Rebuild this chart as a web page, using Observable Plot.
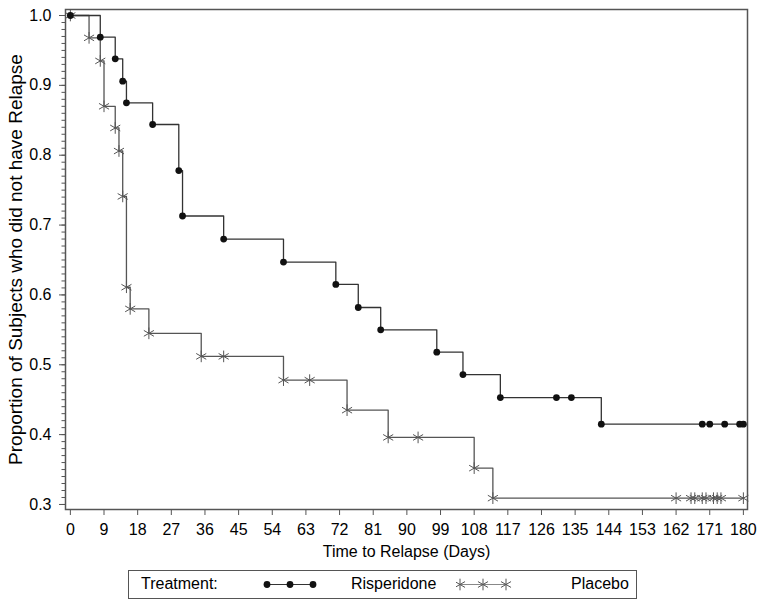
<!DOCTYPE html>
<html><head><meta charset="utf-8">
<script src="https://cdn.jsdelivr.net/npm/d3@7"></script>
<script src="https://cdn.jsdelivr.net/npm/@observablehq/plot@0.6"></script>
<style>
body{margin:0;background:#fff;font-family:"Liberation Sans",Arial,sans-serif;}
#wrap{position:relative;width:758px;height:604px;}
#legend{position:absolute;left:128px;top:570px;width:507px;height:27px;border:1.5px solid #555;box-sizing:content-box;font-size:16px;color:#000;}
#legend span{position:absolute;top:4px;white-space:nowrap;}
#legend svg{position:absolute;top:0;}
</style></head><body>
<div id="wrap"><div id="chart"></div><div id="legend"></div></div>
<script>
// Risperidone (filled dots)
const rispDays = [0, 8, 12, 14, 15, 22, 29, 30, 41, 57, 71, 77, 83, 98, 105, 115, 130, 134, 142, 169, 171, 175, 179, 180];
const rispSurv = [1.0, 0.969, 0.938, 0.906, 0.875, 0.844, 0.778, 0.713, 0.680, 0.647, 0.615, 0.582, 0.550, 0.518, 0.486, 0.453, 0.453, 0.453, 0.415, 0.415, 0.415, 0.415, 0.415, 0.415];
// Placebo (asterisks)
const placDays = [0, 5, 8, 9, 12, 13, 14, 15, 16, 21, 35, 41, 57, 64, 74, 85, 93, 108, 113, 162, 166, 167, 169, 170, 172, 173, 174, 180];
const placSurv = [1.0, 0.968, 0.935, 0.870, 0.839, 0.806, 0.741, 0.611, 0.580, 0.545, 0.512, 0.512, 0.478, 0.478, 0.435, 0.396, 0.396, 0.352, 0.309, 0.309, 0.309, 0.309, 0.309, 0.309, 0.309, 0.309, 0.309, 0.309];
const xTicks = [0, 9, 18, 27, 36, 45, 54, 63, 72, 81, 90, 99, 108, 117, 126, 135, 144, 153, 162, 171, 180];
const yTicks = [0.3, 0.4, 0.5, 0.6, 0.7, 0.8, 0.9, 1.0];
const yMinor = d3.range(30, 101).map(v => v / 100);
const seriesNames = ["Risperidone", "Placebo"];
const legendTitle = "Treatment:";
const xLabel = "Time to Relapse (Days)";
const yLabel = "Proportion of Subjects who did not have Relapse";

const risp = rispDays.map((d, i) => ({day: d, surv: rispSurv[i], trt: seriesNames[0]}));
const plac = placDays.map((d, i) => ({day: d, surv: placSurv[i], trt: seriesNames[1]}));

const chart = Plot.plot({
  width: 758, height: 566,
  marginLeft: 65, marginRight: 11, marginTop: 9, marginBottom: 57,
  style: {fontFamily: "'Liberation Sans', Arial, sans-serif", fontSize: "16px", color: "#000", background: "#fff", overflow: "visible"},
  x: {domain: [-1.3, 181.1]},
  y: {domain: [0.2928, 1.0086]},
  marks: [
    Plot.axisY(yMinor, {tickSize: 3.5, text: null, stroke: "#555", label: null}),
    Plot.axisY(yTicks, {tickSize: 6, tickPadding: 8, tickFormat: d3.format(".1f"), stroke: "#555", fill: "#000", label: null, fontSize: 16}),
    Plot.axisX(xTicks, {tickSize: 6, tickPadding: 8, stroke: "#555", fill: "#000", label: null, fontSize: 16}),
    Plot.text([yLabel], {frameAnchor: "left", rotate: -90, dx: -50, fontSize: 19, fill: "#000", textAnchor: "middle", lineAnchor: "middle"}),
    Plot.text([xLabel], {frameAnchor: "bottom", dy: 42, fontSize: 16, fill: "#000", textAnchor: "middle", lineAnchor: "middle"}),
    Plot.frame({stroke: "#555", strokeWidth: 1.5}),
    Plot.line(plac, {x: "day", y: "surv", curve: "step-after", stroke: "#555", strokeWidth: 1.3}),
    Plot.line(risp, {x: "day", y: "surv", curve: "step-after", stroke: "#333", strokeWidth: 1.3}),
    Plot.dot(plac, {x: "day", y: "surv", symbol: "asterisk", r: 5.5, stroke: "#555", strokeWidth: 1}),
    Plot.dot(risp, {x: "day", y: "surv", r: 3.4, fill: "#111", stroke: "none"})
  ]
});
document.getElementById("chart").appendChild(chart);

// Legend
const lg = d3.select("#legend");
lg.append("span").style("left", "12px").text(legendTitle);
function swatch(left, kind) {
  const s = lg.append("svg").attr("width", 56).attr("height", 27).style("left", left + "px");
  const xs = [4, 27, 50];
  s.append("line").attr("x1", xs[0]).attr("x2", xs[2]).attr("y1", 13.5).attr("y2", 13.5)
    .attr("stroke", kind === "dot" ? "#333" : "#888").attr("stroke-width", 1.2);
  xs.forEach(x => {
    if (kind === "dot") s.append("circle").attr("cx", x).attr("cy", 13.5).attr("r", 3.4).attr("fill", "#111");
    else s.append("path").attr("transform", `translate(${x},13.5)`)
      .attr("d", d3.symbol(d3.symbolAsterisk, 5.5 * 5.5 * Math.PI)()).attr("stroke", "#555").attr("fill", "none");
  });
}
swatch(134, "dot");
lg.append("span").style("left", "222px").text(seriesNames[0]);
swatch(327, "star");
lg.append("span").style("left", "442px").text(seriesNames[1]);
</script>
</body></html>
